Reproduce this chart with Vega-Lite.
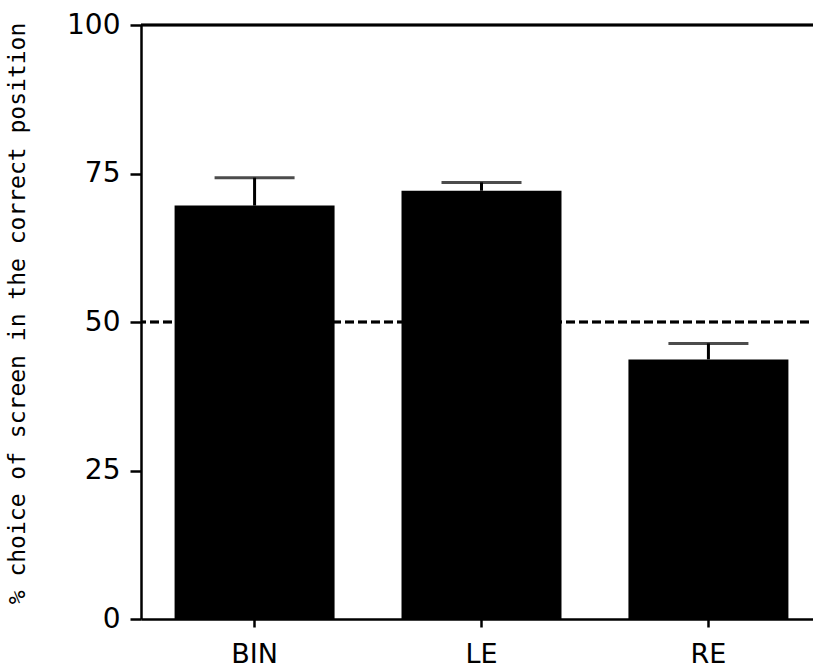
{
  "$schema": "https://vega.github.io/schema/vega-lite/v6.json",
  "autosize": "none",
  "padding": {"left": 141, "top": 25, "right": 0, "bottom": 51},
  "width": 681,
  "height": 594,
  "background": "white",
  "config": {
    "view": {"stroke": null},
    "axis": {
      "domainColor": "black",
      "domainWidth": 2.5,
      "tickColor": "black",
      "tickWidth": 2.5,
      "labelColor": "black",
      "labelFont": "DejaVu Sans",
      "grid": false
    }
  },
  "data": {
    "values": [
      {"condition": "BIN", "mean": 69.6, "upper": 74.3},
      {"condition": "LE", "mean": 72.1, "upper": 73.5},
      {"condition": "RE", "mean": 43.7, "upper": 46.4}
    ]
  },
  "layer": [
    {
      "mark": {"type": "rule", "color": "black", "strokeWidth": 2.5, "strokeDash": [9, 4]},
      "encoding": {"y": {"datum": 50, "type": "quantitative"}}
    },
    {
      "mark": {"type": "rule", "color": "black", "strokeWidth": 2.5},
      "encoding": {"y": {"datum": 100, "type": "quantitative"}}
    },
    {
      "mark": {"type": "bar", "color": "black"},
      "encoding": {
        "x": {
          "field": "condition",
          "type": "nominal",
          "sort": null,
          "scale": {"paddingInner": 0.295, "paddingOuter": 0.148},
          "axis": {
            "title": null,
            "labelAngle": 0,
            "labelFontSize": 27,
            "labelPadding": 14,
            "tickSize": 8
          }
        },
        "y": {
          "field": "mean",
          "type": "quantitative",
          "scale": {"domain": [0, 100], "nice": false},
          "axis": {
            "title": "% choice of screen in the correct position",
            "titleFont": "DejaVu Sans Mono",
            "titleFontSize": 23,
            "titleFontWeight": "normal",
            "titleColor": "black",
            "titleAngle": 270,
            "titleBaseline": "middle",
            "titleX": -124,
            "titleY": 288,
            "values": [0, 25, 50, 75, 100],
            "labelFontSize": 28,
            "labelPadding": 10,
            "tickSize": 11
          }
        }
      }
    },
    {
      "mark": {"type": "rule", "color": "black", "strokeWidth": 3},
      "encoding": {
        "x": {"field": "condition", "type": "nominal", "sort": null},
        "y": {"field": "mean", "type": "quantitative"},
        "y2": {"field": "upper"}
      }
    },
    {
      "mark": {"type": "tick", "color": "black", "size": 80, "thickness": 3},
      "encoding": {
        "x": {"field": "condition", "type": "nominal", "sort": null},
        "y": {"field": "upper", "type": "quantitative"}
      }
    }
  ]
}
